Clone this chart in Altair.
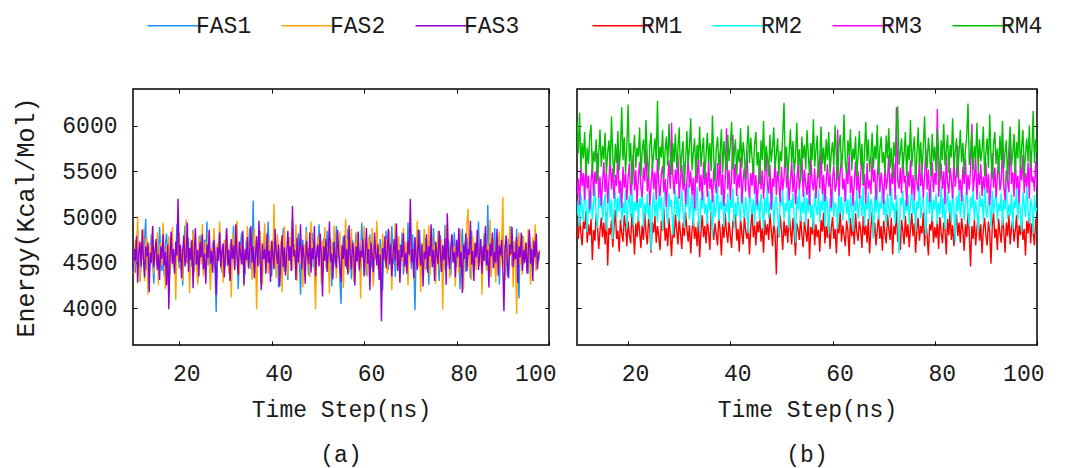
import altair as alt
import pandas as pd

FONT = "Liberation Mono"
TXT = "#1a1a1a"
FS = 23

# time grid of the samples (ns)
T_START = 10.0
T_STEP = 0.25

X_TICKS = [20, 40, 60, 80, 100]
Y_TICKS = [4000, 4500, 5000, 5500, 6000]
X_DOMAIN = [10, 100]
Y_DOMAIN = [3600, 6400]

FAS_NAMES = ["FAS1", "FAS2", "FAS3"]
FAS_COLORS = ["#1E90FF", "#FFA500", "#9400D3"]
RM_NAMES = ["RM1", "RM2", "RM3", "RM4"]
RM_COLORS = ["#FF0000", "#00FFFF", "#FF00FF", "#00C000"]

FAS1 = [
    4480, 4620, 4390, 4710, 4850, 4560, 4300, 4470, 4690, 4530, 4760, 4980, 4420, 4580, 4350, 4640, 4810, 4520, 4270, 4600,
    4730, 4460, 4580, 4890, 4630, 4410, 4550, 4350, 4700, 4820, 4600, 4180, 4490, 4760, 4570, 4650, 4380, 4520, 4920, 4610,
    4440, 4700, 4540, 4250, 4680, 4910, 4500, 4620, 4770, 4330, 4590, 4450, 4860, 4710, 4480, 4560, 4290, 4640, 4800, 4530,
    4620, 4400, 4750, 4580, 4950, 4470, 4660, 4320, 4540, 4730, 4590, 4420, 3960, 4500, 4680, 4860, 4610, 4390, 4570, 4720,
    4460, 4800, 4650, 4530, 4310, 4700, 4580, 4900, 4440, 4620, 4760, 4210, 4550, 4690, 4830, 4480, 4600, 4370, 4740, 4520,
    4660, 4880, 4430, 4590, 5180, 4510, 4390, 4720, 4600, 4480, 4850, 4270, 4630, 4540, 4790, 4410, 4680, 4950, 4500, 4610,
    4350, 4740, 4560, 4820, 4470, 4640, 4230, 4590, 4710, 4520, 4880, 4400, 4650, 4560, 4310, 4780, 4620, 4490, 4960, 4570,
    4700, 4430, 4580, 4820, 4520, 4150, 4660, 4750, 4470, 4610, 4890, 4540, 4360, 4700, 4600, 4830, 4450, 4570, 4290, 4680,
    4560, 4920, 4480, 4630, 4380, 4770, 4600, 4510, 4850, 4420, 4690, 4580, 4240, 4730, 4620, 4470, 4900, 4550, 4660, 4340,
    4050, 4610, 4790, 4500, 4680, 4430, 4870, 4560, 4640, 4320, 4750, 4590, 4460, 4830, 4520, 4700, 4400, 4610, 4940, 4570,
    4480, 4720, 4360, 4650, 4560, 4810, 4440, 4600, 4280, 4690, 4540, 4870, 4620, 4470, 4760, 4580, 4190, 4640, 4520, 4850,
    4610, 4420, 4730, 4560, 4900, 4480, 4650, 4340, 4790, 4590, 4460, 4700, 4620, 4830, 4370, 4550, 4680, 4490, 4940, 4570,
    4640, 4430, 4810, 4520, 3980, 4590, 4720, 4480, 4860, 4600, 4380, 4690, 4550, 4770, 4430, 4620, 4260, 4740, 4580, 4500,
    4880, 4620, 4450, 4710, 4560, 4300, 4800, 4530, 4670, 4420, 4910, 4590, 4480, 4750, 4620, 4360, 4690, 4530, 4830, 4600,
    4450, 4730, 4580, 4210, 4660, 4870, 4510, 4620, 4400, 4780, 4570, 4690, 4330, 4850, 4540, 4640, 4470, 4720, 4590, 4950,
    4500, 4680, 4380, 4610, 4820, 4560, 4440, 5130, 4590, 4720, 4350, 4660, 4530, 4880, 4470, 4600, 4780, 4260, 4640, 4550,
    4810, 4490, 4700, 4580, 4350, 4760, 4620, 4900, 4460, 4590, 4730, 4530, 4870, 4420, 4110, 4680, 4570, 4800, 4480, 4650,
    4540, 4720, 4380, 4830, 4600, 4460, 4690, 4570, 4750, 4410, 4620, 4520, 4600,
]
FAS2 = [
    4620, 4380, 4750, 4520, 5010, 4460, 4290, 4690, 4540, 4870, 4300, 4610, 4780, 4150, 4560, 4700, 4490, 4900, 4380, 4640,
    4520, 4830, 4250, 4600, 4720, 4470, 4940, 4560, 4210, 4680, 4500, 4790, 4360, 4620, 4890, 4440, 4580, 4090, 4710, 4550,
    4830, 4420, 4650, 4300, 4760, 4580, 4970, 4490, 4620, 4170, 4740, 4530, 4850, 4400, 4680, 4560, 4260, 4790, 4620, 4480,
    4920, 4350, 4600, 4730, 4470, 4840, 4540, 4200, 4660, 4500, 4880, 4620, 4330, 4710, 4560, 4950, 4420, 4640, 4280, 4750,
    4510, 4860, 4600, 4380, 4720, 4120, 4590, 4810, 4450, 4680, 4960, 4530, 4370, 4690, 4570, 4800, 4240, 4620, 4500, 4900,
    4430, 4650, 4780, 4310, 4560, 4870, 4600, 3990, 4710, 4480, 4840, 4570, 4260, 4690, 4930, 4520, 4640, 4380, 4760, 4550,
    4700, 4470, 5140, 4580, 4330, 4810, 4620, 4450, 4740, 4180, 4650, 4900, 4510, 4600, 4360, 4770, 4540, 4860, 4420, 4680,
    4560, 4920, 4300, 4640, 4490, 4780, 4610, 4230, 4700, 4540, 4850, 4470, 4660, 4340, 4950, 4580, 4720, 4400, 3990, 4630,
    4800, 4520, 4660, 4270, 4740, 4590, 4890, 4430, 4680, 4550, 4160, 4770, 4620, 4480, 4910, 4570, 4330, 4700, 4600, 4840,
    4450, 4690, 4220, 4610, 4980, 4530, 4760, 4390, 4640, 4870, 4500, 4290, 4720, 4580, 4830, 4460, 4650, 4110, 4750, 4560,
    4900, 4470, 4630, 4350, 4780, 4600, 4520, 4880, 4240, 4670, 4550, 4960, 4430, 4700, 4590, 4310, 4820, 4640, 4500, 4760,
    4380, 4620, 4850, 4540, 4200, 4710, 4580, 4930, 4460, 4660, 4790, 4340, 4600, 4520, 4880, 4410, 4730, 4570, 4250, 4690,
    4840, 4510, 4650, 4300, 4760, 4590, 4960, 4450, 4620, 4180, 4720, 4560, 4870, 4420, 4680, 4530, 4910, 4360, 4640, 4780,
    4490, 4700, 4270, 4620, 4850, 4540, 4410, 4760, 3990, 4650, 4580, 4920, 4470, 4710, 4330, 4600, 4800, 4520, 4680, 4240,
    4750, 4590, 4380, 4870, 4620, 4500, 4200, 4730, 4560, 4940, 5090, 4450, 4660, 4310, 4790, 4570, 4690, 4420, 4850, 4600,
    4470, 4720, 4150, 4640, 4530, 4880, 4410, 4690, 4580, 4970, 4350, 4620, 4760, 4490, 4280, 4710, 4600, 4840, 4450, 4660,
    5220, 4540, 4310, 4780, 4620, 4450, 4900, 4570, 4690, 4230, 4740, 4520, 3940, 4660, 4830, 4480, 4610, 4370, 4790, 4550,
    4700, 4430, 4870, 4590, 4260, 4650, 4780, 4500, 4920, 4410, 4630, 4560, 4640,
]
FAS3 = [
    4400, 4650, 4520, 4790, 4280, 4600, 4730, 4460, 4860, 4540, 4340, 4680, 4570, 4720, 4180, 4610, 4500, 4900, 4450, 4630,
    4760, 4420, 4590, 4310, 4680, 4540, 4810, 4470, 4620, 4250, 4700, 3990, 4560, 4840, 4490, 4650, 4380, 4730, 4580, 5200,
    4510, 4690, 4330, 4620, 4800, 4460, 4570, 4940, 4400, 4660, 4530, 4750, 4220, 4610, 4880, 4480, 4640, 4350, 4720, 4560,
    4810, 4430, 4600, 4270, 4700, 4550, 4860, 4490, 4630, 4390, 4750, 4580, 4150, 4670, 4520, 4830, 4450, 4620, 4710, 4340,
    4590, 4880, 4470, 4640, 4300, 4760, 4540, 4690, 4420, 4920, 4560, 4370, 4730, 4600, 4480, 4850, 4260, 4650, 4530, 4780,
    4440, 4620, 4900, 4500, 4680, 4330, 4590, 4790, 4460, 4960, 4570, 4200, 4710, 4540, 4650, 4380, 4820, 4500, 4630, 4290,
    4740, 4580, 4430, 4870, 4610, 4490, 4700, 4240, 4560, 4800, 4450, 4670, 4360, 4590, 4850, 4520, 4680, 4410, 5120, 4570,
    4640, 4310, 4770, 4500, 4620, 4920, 4430, 4690, 4560, 4270, 4740, 4600, 4480, 4830, 4390, 4660, 4540, 4900, 4350, 4610,
    4700, 4460, 4820, 4590, 4130, 4680, 4520, 4760, 4400, 4640, 4950, 4510, 4600, 4320, 4730, 4570, 4440, 4860, 4620, 4480,
    4290, 4690, 4540, 4800, 4460, 4650, 4370, 4910, 4580, 4430, 4720, 4600, 4250, 4680, 4510, 4840, 4420, 4630, 4560, 4760,
    4350, 4600, 4880, 4490, 4650, 4200, 4720, 4560, 4400, 4830, 4610, 4470, 4700, 4310, 4590, 3860, 4660, 4530, 4790, 4440,
    4620, 4870, 4480, 4700, 4350, 4580, 4760, 4520, 4930, 4410, 4640, 4280, 4690, 4560, 4820, 4460, 4610, 4380, 4740, 4590,
    5200, 4500, 4650, 4330, 4780, 4560, 4420, 4860, 4600, 4470, 4700, 4240, 4620, 4540, 4810, 4390, 4680, 4570, 4920, 4450,
    4640, 4300, 4730, 4580, 4490, 4850, 4610, 4400, 4690, 4530, 4770, 4260, 5040, 4570, 4430, 4660, 4810, 4500, 4620, 4340,
    4750, 4560, 4880, 4450, 4620, 4170, 4700, 4540, 4820, 4410, 4650, 4590, 4960, 4480, 4630, 4300, 4720, 4560, 4860, 4420,
    4600, 4760, 4380, 4680, 4520, 4900, 4470, 4640, 4230, 4710, 4570, 4830, 4440, 4620, 4500, 4870, 4360, 4690, 4580, 4750,
    4460, 3970, 4650, 4800, 4520, 4330, 4700, 4590, 4890, 4450, 4620, 4540, 4780, 4280, 4680, 4560, 4830, 4410, 4640, 4500,
    4720, 4380, 4610, 4860, 4490, 4650, 4300, 4740, 4560, 4820, 4430, 4600, 4620,
]

RM1 = [
    4900, 4760, 5010, 4830, 4690, 4950, 4870, 5060, 4720, 4920, 4800, 4980, 4530, 4860, 4740, 5030, 4910, 4650, 4850, 4990,
    4780, 4940, 4700, 5050, 4470, 4880, 4810, 4960, 4670, 4900, 5080, 4760, 4850, 4620, 4970, 4820, 4730, 5020, 4890, 4680,
    4950, 4800, 4710, 5040, 4860, 4590, 4930, 4780, 5000, 4840, 4660, 4910, 4750, 5070, 4820, 4700, 4980, 4870, 4610, 4940,
    4830, 5010, 4720, 4900, 4790, 4640, 4960, 4850, 5090, 4740, 4880, 4680, 4990, 4810, 4570, 4920, 4770, 5030, 4860, 4700,
    4980, 4820, 4650, 4940, 4790, 5050, 4870, 4730, 4910, 4600, 4850, 5000, 4760, 4890, 4680, 4960, 4560, 4840, 5020, 4780,
    4900, 4710, 4970, 4830, 4640, 5060, 4880, 4750, 4930, 4810, 4690, 4990, 4860, 4580, 4920, 4770, 5040, 4840, 4720, 4950,
    4800, 4660, 4960, 4890, 5030, 4740, 4870, 4620, 4980, 4820, 4700, 5010, 4850, 4760, 4930, 4590, 4880, 5070, 4780, 4910,
    4690, 4950, 4830, 5000, 4730, 4880, 4610, 4970, 4800, 4920, 4750, 5040, 4860, 4680, 4940, 4810, 4370, 4900, 4780, 5020,
    4850, 4640, 4960, 4790, 4910, 4720, 5060, 4870, 4700, 4990, 4820, 4580, 4930, 4860, 4750, 5010, 4800, 4670, 4950, 4840,
    4730, 4980, 4540, 4890, 4810, 5030, 4690, 4920, 4780, 4860, 4620, 4970, 4840, 5050, 4710, 4900, 4770, 4990, 4650, 4880,
    5000, 4760, 4870, 4600, 4940, 4820, 5070, 4730, 4910, 4800, 4680, 4960, 4850, 4570, 4990, 4790, 4920, 4700, 5040, 4830,
    4740, 4950, 4860, 4660, 5010, 4800, 4910, 4720, 4980, 4600, 4870, 5060, 4780, 4940, 4690, 4850, 5020, 4760, 4900, 4630,
    4960, 4820, 4710, 5030, 4870, 4750, 4990, 4590, 4900, 4810, 5080, 4730, 4860, 4640, 4970, 4840, 4700, 5010, 4780, 4920,
    4670, 4880, 5040, 4790, 4930, 4610, 4860, 4990, 4740, 4900, 4820, 5050, 4680, 4950, 4800, 4580, 4920, 4850, 5020, 4720,
    4890, 4770, 4960, 4650, 5000, 4830, 4710, 4940, 4860, 4590, 4980, 4800, 5060, 4750, 4910, 4680, 4870, 5030, 4790, 4940,
    4720, 4990, 4850, 4630, 4920, 4780, 5040, 4810, 4460, 4900, 4760, 4970, 4690, 4880, 5010, 4740, 4920, 4600, 4860, 4990,
    4800, 4690, 4950, 4830, 4490, 4910, 5050, 4770, 4870, 4640, 4980, 4820, 4720, 5000, 4850, 4610, 4940, 4790, 5030, 4700,
    4880, 4960, 4730, 4850, 5020, 4660, 4910, 4800, 4990, 4750, 4870, 4580, 4960, 4820, 5060, 4710, 4930, 4840, 4690, 4980,
    4900,
]
RM2 = [
    5020, 5180, 4900, 5260, 5090, 4950, 5310, 5120, 4830, 5200, 5040, 5280, 4970, 5150, 5350, 5010, 4880, 5230, 5100, 5300,
    4960, 5140, 5250, 4850, 5070, 5330, 5000, 5190, 4760, 5110, 5270, 4990, 5210, 5060, 5380, 4920, 5160, 5040, 5290, 4870,
    5130, 5240, 5000, 5320, 4910, 5170, 5060, 5280, 4950, 5200, 5100, 5360, 4890, 5150, 5030, 5250, 4980, 5190, 4630, 5120,
    5270, 5010, 5180, 4940, 5300, 5080, 5220, 4860, 5140, 5340, 5050, 4920, 5260, 5110, 5190, 4800, 5070, 5310, 5000, 5230,
    4950, 5160, 5290, 5040, 4880, 5200, 5110, 5370, 4970, 5130, 5250, 4900, 5180, 5060, 5330, 5010, 4840, 5210, 5090, 5270,
    5030, 5140, 4920, 5280, 5070, 5190, 4780, 5240, 5000, 5120, 5350, 4960, 5170, 5080, 5300, 4890, 5150, 5050, 5260, 4940,
    5200, 5100, 5320, 4870, 5160, 5010, 5240, 5090, 4950, 5390, 5130, 4990, 5220, 5060, 4820, 5280, 5150, 5030, 5190, 4910,
    5300, 5070, 5180, 4960, 5250, 5110, 4850, 5210, 5040, 5340, 4980, 5170, 5080, 5270, 4900, 5140, 5230, 5020, 4790, 5200,
    5120, 5290, 4970, 5150, 5060, 5330, 4880, 5190, 5100, 5260, 5000, 4720, 5230, 5080, 5310, 4950, 5170, 5040, 5280, 4920,
    5210, 5050, 5340, 4990, 5140, 4860, 5260, 5110, 5020, 5300, 4940, 5180, 5070, 5370, 4900, 5230, 5130, 4810, 5200, 5060,
    5280, 5000, 5160, 5090, 4870, 5310, 5040, 5220, 4960, 5140, 5350, 5030, 5190, 4920, 5250, 5100, 4840, 5180, 5060, 5290,
    4980, 5130, 5240, 5010, 5330, 4900, 5170, 5080, 5270, 4950, 5200, 5120, 4760, 5230, 5050, 5300, 4970, 5160, 5090, 5340,
    5020, 5190, 4890, 5260, 5100, 4990, 5320, 5070, 5150, 4930, 5240, 5040, 4600, 5210, 5130, 5290, 4960, 5180, 5060, 5250,
    4910, 5140, 5300, 5030, 5200, 4850, 5170, 5090, 5360, 4980, 5120, 5230, 5010, 4800, 5270, 5150, 5040, 5310, 4950, 5190,
    5080, 5260, 4920, 5160, 5030, 5340, 4990, 5210, 4870, 5140, 5280, 5050, 5180, 4940, 5320, 5100, 4730, 5230, 5060, 5290,
    5000, 5170, 5250, 4960, 5130, 5360, 5040, 4900, 5220, 5090, 5300, 4970, 5180, 5060, 4830, 5270, 5110, 5200, 4950, 5340,
    5070, 4990, 5230, 5120, 4880, 5290, 5040, 5170, 5320, 4940, 5150, 5060, 5260, 4910, 5190, 5080, 5350, 4980, 5140, 5020,
    5250, 4870, 5180, 5100, 5310, 4960, 5220, 5050, 4840, 5270, 5130, 5000, 5330, 5080, 4930, 5200, 5110, 4820, 5240, 5060,
    5100,
]
RM3 = [
    5250, 5420, 5130, 5560, 5340, 5480, 5190, 5620, 5310, 5450, 5080, 5390, 5570, 5230, 5500, 5360, 5700, 5210, 5440, 5120,
    5380, 5600, 5270, 5490, 5150, 5410, 5650, 5300, 5530, 5200, 5460, 5340, 5720, 5260, 5400, 5100, 5550, 5320, 5480, 5180,
    5430, 5590, 5240, 5370, 5680, 5290, 5510, 5160, 5420, 5600, 5330, 5220, 5540, 5390, 5750, 5280, 5460, 5130, 5370, 5580,
    5300, 5490, 5190, 5640, 5350, 5230, 5470, 5560, 5270, 5420, 5110, 5380, 5620, 5310, 6030, 5450, 5250, 5520, 5360, 5680,
    5200, 5410, 5570, 5290, 5480, 5140, 5390, 5660, 5320, 5500, 5240, 5430, 5090, 5550, 5370, 5710, 5280, 5460, 5180, 5600,
    5350, 5490, 5220, 5640, 5310, 5420, 5160, 5530, 5380, 5260, 5590, 5330, 5700, 5240, 5470, 5120, 5400, 5970, 5300, 5510,
    5190, 5440, 5900, 5360, 5580, 5230, 5470, 5320, 5650, 5150, 5400, 5540, 5280, 5730, 5370, 5210, 5480, 5340, 5600, 5250,
    5460, 5130, 5390, 5620, 5300, 5510, 5200, 5440, 5680, 5350, 5260, 5570, 5080, 5420, 5330, 5640, 5240, 5500, 5380, 5160,
    5550, 5290, 5430, 5760, 5320, 5470, 5180, 5400, 5610, 5270, 5490, 5140, 5370, 5590, 5300, 5450, 5700, 5220, 5520, 5350,
    5240, 5480, 5130, 5660, 5380, 5290, 5530, 5200, 5420, 5600, 5310, 5740, 5250, 5460, 5170, 5390, 5580, 5330, 5470, 5100,
    5410, 5560, 5280, 5350, 5960, 5230, 5490, 5640, 5300, 5420, 5170, 5540, 5360, 5690, 5260, 5450, 5120, 5380, 5610, 5290,
    5500, 5200, 5440, 5730, 5340, 5470, 5150, 5590, 5310, 5400, 5250, 5660, 5380, 5520, 5180, 5430, 5620, 5270, 5490, 5350,
    5140, 5560, 5300, 5420, 5680, 5230, 5480, 5360, 5590, 5190, 6200, 5400, 5310, 5540, 5260, 5710, 5370, 5450, 5120, 5500,
    5330, 5620, 5250, 5460, 5180, 5570, 5390, 5280, 5650, 5340, 5490, 5210, 5440, 5750, 5300, 5520, 5160, 5400, 5600, 5270,
    5480, 5350, 6180, 5220, 5430, 5580, 5310, 5500, 5140, 5690, 5370, 5260, 5540, 5400, 5200, 5620, 5330, 5470, 5780, 5290,
    5410, 5170, 5550, 5360, 5640, 5240, 5460, 5300, 5510, 6020, 5280, 5420, 5660, 5190, 5490, 5350, 5580, 5230, 5440, 5310,
    5600, 5260, 5470, 5130, 5390, 5700, 5320, 5540, 5210, 5450, 5620, 5290, 5400, 5760, 5340, 5180, 5510, 5380, 5270, 5940,
    5360, 5490, 5220, 5640, 5310, 5450, 5150, 5570, 5400, 5680, 5260, 5480, 5330, 5590, 5200, 5720, 5380, 5440, 5280, 5610,
    5330,
]
RM4 = [
    6050, 5700, 6140, 5520, 5810, 5640, 5930, 5460, 5760, 5580, 5890, 6010, 5490, 5720, 5600, 5850, 5390, 5680, 5960, 5550,
    5780, 5630, 5920, 5470, 5700, 5840, 5560, 6100, 5650, 5430, 5800, 5590, 5940, 5510, 5730, 6200, 5620, 5870, 5480, 5760,
    6230, 5600, 5810, 5350, 5690, 5900, 5540, 5760, 5660, 5980, 5450, 5720, 5850, 5580, 6060, 5640, 5410, 5790, 5920, 5530,
    5700, 5860, 5620, 6270, 5500, 5770, 5650, 5950, 5420, 5730, 5880, 5560, 6020, 5680, 5460, 5810, 5600, 5910, 5540, 5750,
    5980, 5490, 5690, 5830, 5370, 5620, 5940, 5580, 5760, 6080, 5510, 5700, 5860, 5450, 5790, 5630, 5990, 5550, 5720, 5870,
    5430, 5680, 5920, 5600, 5810, 5500, 6110, 5660, 5390, 5750, 5880, 5570, 5700, 5960, 5480, 5830, 5640, 5510, 5900, 5610,
    5780, 6040, 5520, 5690, 5850, 5460, 5740, 5600, 5970, 5540, 5820, 5680, 5410, 5760, 6000, 5590, 5870, 5650, 5480, 5800,
    5930, 5560, 5710, 5360, 5840, 5620, 6050, 5500, 5780, 5670, 5440, 5900, 5600, 5750, 5980, 5530, 5690, 5860, 5450, 5720,
    5610, 5890, 6250, 5540, 5770, 5420, 5700, 5960, 5590, 5830, 5480, 5660, 6030, 5570, 5740, 5380, 5880, 5640, 5790, 5520,
    5950, 5680, 5460, 5810, 5620, 6070, 5550, 5730, 5890, 5430, 5660, 5990, 5580, 5760, 5500, 5850, 5620, 5930, 5470, 5700,
    5820, 5560, 6000, 5650, 5400, 5780, 5900, 5530, 5720, 6120, 5600, 5470, 5840, 5680, 5960, 5510, 5750, 5630, 5880, 5440,
    5690, 5940, 5570, 5800, 5360, 5720, 6040, 5610, 5850, 5490, 5660, 5920, 5540, 5780, 5630, 6010, 5460, 5740, 5880, 5590,
    5710, 5480, 5890, 5640, 5970, 5530, 5760, 5420, 5820, 5660, 5950, 6210, 5570, 5700, 5860, 5510, 5680, 5930, 5440, 5790,
    5620, 6060, 5550, 5730, 5880, 5400, 5690, 5980, 5580, 5820, 5470, 5760, 6100, 5640, 5530, 5870, 5700, 5450, 5910, 5610,
    5770, 5500, 5960, 5680, 5390, 5840, 5620, 6020, 5560, 5730, 5900, 5480, 5790, 5650, 6080, 5540, 5720, 5860, 5430, 5700,
    5950, 5600, 5810, 5460, 5740, 5880, 6240, 5570, 5690, 5920, 5510, 5780, 5640, 6030, 5490, 5850, 5610, 5730, 5990, 5450,
    5700, 5860, 5540, 6120, 5660, 5420, 5800, 5930, 5580, 5750, 5470, 5890, 5620, 6050, 5530, 5710, 5840, 5380, 5760, 5990,
    5560, 5690, 5910, 5480, 5820, 5640, 6070, 5520, 5780, 5950, 5430, 5700, 5860, 5600, 6000, 5540, 5730, 6160, 5590, 5850,
    5700,
]

PLOT_H = 256


def long_frame(names, series):
    rows = []
    for name, vals in zip(names, series):
        for i, v in enumerate(vals):
            rows.append({"t": T_START + T_STEP * i, "E": v, "series": name})
    return pd.DataFrame(rows)


def panel(df, names, colors, width, caption, show_y, legend_x):
    xs = alt.Scale(domain=X_DOMAIN, nice=False, zero=False)
    ys = alt.Scale(domain=Y_DOMAIN, nice=False, zero=False)
    legend = alt.Legend(
        title=None, orient="none", legendX=legend_x, legendY=-75,
        direction="horizontal", columns=len(names),
        symbolType="M-1,0H11", symbolSize=100, symbolStrokeWidth=1.5,
        symbolFillColor="transparent",
        labelOffset=32, columnPadding=23, padding=0,
        labelFont=FONT, labelFontSize=FS, labelColor=TXT,
    )
    x_main = alt.Axis(
        orient="bottom", values=X_TICKS, title="Time Step(ns)", ticks=False,
        domain=False, grid=False, labelPadding=17, labelOffset=7,
        titlePadding=13, format="d",
    )
    if show_y:
        y_main = alt.Axis(
            orient="left", values=Y_TICKS, title="Energy(Kcal/Mol)", ticks=False,
            domain=False, grid=False, labelPadding=16, titlePadding=23, format="d",
            titleFontSize=25,
        )
    else:
        y_main = None
    lines = alt.Chart(df).mark_line(strokeWidth=1.4, clip=True).encode(
        x=alt.X("t:Q", scale=xs, axis=x_main),
        y=alt.Y("E:Q", scale=ys, axis=y_main),
        color=alt.Color("series:N", scale=alt.Scale(domain=names, range=colors),
                        sort=names, legend=legend),
    )
    tick_kw = dict(labels=False, domain=False, grid=False, ticks=True, tickSize=4,
                   tickColor="#000", tickWidth=1, title=None, minExtent=0)
    ticks_a = alt.Chart(df).mark_line(strokeOpacity=0).encode(
        x=alt.X("t:Q", scale=xs, axis=alt.Axis(orient="top", offset=-PLOT_H, values=X_TICKS, **tick_kw)),
        y=alt.Y("E:Q", scale=ys, axis=alt.Axis(orient="right", offset=-width, values=Y_TICKS, **tick_kw)),
    )
    ticks_b = alt.Chart(df).mark_line(strokeOpacity=0).encode(
        x=alt.X("t:Q", scale=xs, axis=alt.Axis(orient="bottom", offset=-PLOT_H, values=X_TICKS, **tick_kw)),
        y=alt.Y("E:Q", scale=ys, axis=alt.Axis(orient="left", offset=-width, values=Y_TICKS, **tick_kw)),
    )
    return alt.layer(lines, ticks_a, ticks_b).properties(
        width=width, height=PLOT_H,
        title=alt.TitleParams(caption, orient="bottom", font=FONT, fontSize=FS,
                              fontWeight="normal", color=TXT, offset=23),
    )


fas_df = long_frame(FAS_NAMES, [FAS1, FAS2, FAS3])
rm_df = long_frame(RM_NAMES, [RM1, RM2, RM3, RM4])

left = panel(fas_df, FAS_NAMES, FAS_COLORS, 416, "(a)", True, 8)
right = panel(rm_df, RM_NAMES, RM_COLORS, 460, "(b)", False, 9)

chart = alt.hconcat(left, right, spacing=18).resolve_scale(
    color="independent"
).configure_view(
    stroke="#000", strokeWidth=1.5
).configure_axis(
    labelFont=FONT, labelFontSize=FS, labelColor=TXT,
    titleFont=FONT, titleFontSize=FS, titleFontWeight="normal", titleColor=TXT,
)

chart.save("out.html", embed_options={"renderer": "svg", "actions": False})
